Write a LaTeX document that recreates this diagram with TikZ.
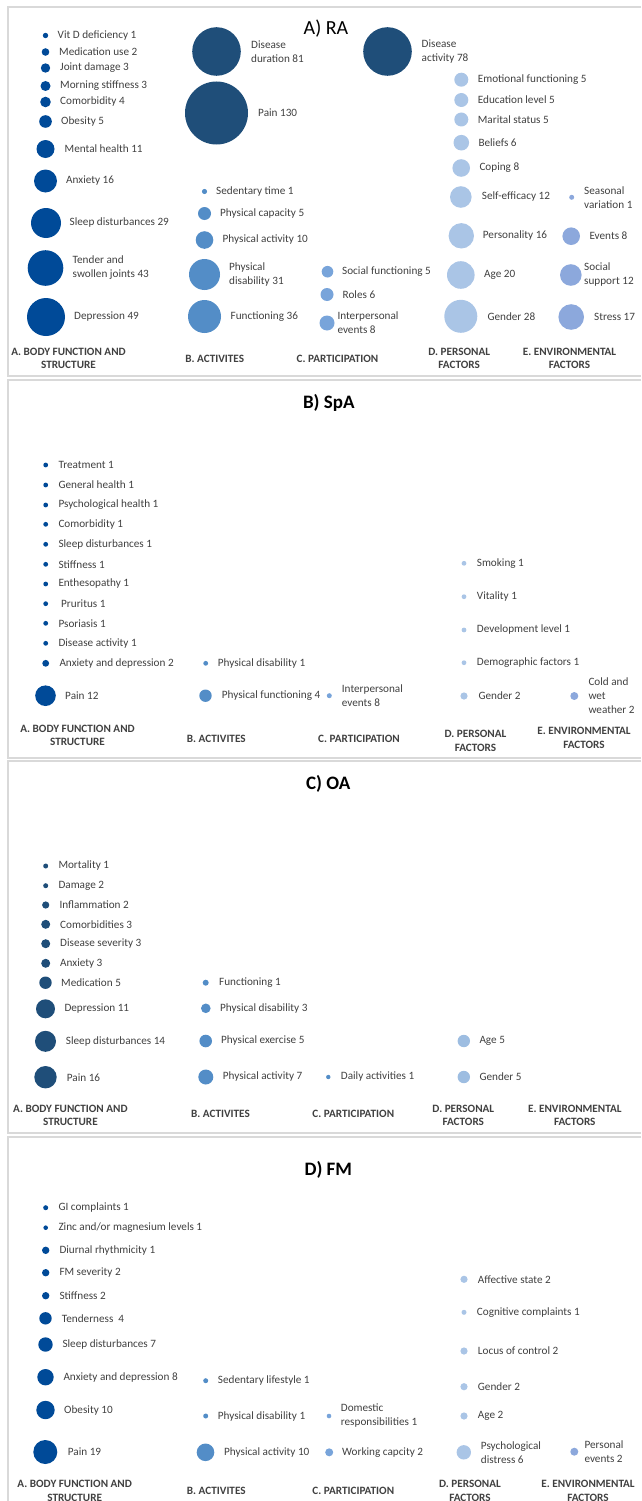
\documentclass[tikz,border=0pt]{standalone}
\usepackage{fontspec}
\setmainfont{Carlito}
\definecolor{bodyc}{RGB}{0,74,152}
\definecolor{navyc}{RGB}{31,78,121}
\definecolor{actc}{RGB}{83,141,199}
\definecolor{partc}{RGB}{120,164,218}
\definecolor{persc}{RGB}{170,197,230}
\definecolor{envc}{RGB}{140,168,220}
\definecolor{txtc}{RGB}{64,64,64}
\definecolor{framec}{RGB}{217,217,217}
\tikzset{
 bubble/.style={circle, inner sep=0pt, draw=none},
 lbl/.style={anchor=west, align=left, inner sep=0pt, text=txtc, font=\fontsize{11.2}{14}\selectfont},
 cat/.style={align=center, inner sep=0pt, text=txtc, font=\bfseries\fontsize{11.2}{13.5}\selectfont},
 ttl/.style={inner sep=0pt, text=black, font=\fontsize{20}{22}\selectfont},
 frame/.style={draw=framec, line width=1.5pt}
}
\newcommand{\bub}[7]{%
 \node[bubble, fill=#5, minimum size={2*#4pt}] (#1) at (#2,#3) {};
 \node[lbl] (#1t) at (#6,#3) {#7};}
\newcommand{\catlab}[4]{\node[cat] (#1) at (#2,#3) {#4};}
\begin{document}
\begin{tikzpicture}[x=1pt,y=-1pt]
\useasboundingbox (0,0) rectangle (641,1501);
% frames
\draw[frame] (641,7) -- (8,7) -- (8,376) -- (641,376);
\draw[frame] (641,380) -- (8,380) -- (8,758) -- (641,758);
\draw[frame] (641,761) -- (8,761) -- (8,1133) -- (641,1133);
\draw[frame] (641,1137) -- (8,1137) -- (8,1505);

% ===== A) RA =====
\node[ttl] (tA) at (326,29) {A) RA};
\bub{aVit}{45.5}{35.5}{2.7}{bodyc}{57.5}{Vit D deficiency 1}
\bub{aMed}{45.5}{52}{3.8}{bodyc}{59}{Medication use 2}
\bub{aJoint}{45.5}{68}{4.7}{bodyc}{60}{Joint damage 3}
\bub{aMorn}{45.5}{86}{5}{bodyc}{60}{Morning stiffness 3}
\bub{aCom}{45.5}{102}{5.3}{bodyc}{60}{Comorbidity 4}
\bub{aObe}{45.5}{121.5}{6.3}{bodyc}{61}{Obesity 5}
\bub{aMent}{45.5}{149}{9}{bodyc}{64.5}{Mental health 11}
\bub{aAnx}{45.5}{181}{11.5}{bodyc}{66}{Anxiety 16}
\bub{aSleep}{46}{223}{15}{bodyc}{69.5}{Sleep disturbances 29}
\bub{aTend}{45.5}{268}{17.8}{bodyc}{72.5}{Tender and\\swollen joints 43}
\bub{aDep}{46}{317}{19}{bodyc}{74}{Depression 49}

\bub{aDur}{216.5}{51.5}{24.3}{navyc}{251}{Disease\\duration 81}
\bub{aPain}{216.5}{113}{31.5}{navyc}{258}{Pain 130}
\bub{aAct}{387.5}{51.5}{24.3}{navyc}{421.5}{Disease\\activity 78}

\bub{aSed}{204.5}{191.5}{2.6}{actc}{216}{Sedentary time 1}
\bub{aCap}{204.5}{213.5}{6.5}{actc}{220}{Physical capacity 5}
\bub{aPact}{204.5}{240}{8.8}{actc}{222.5}{Physical activity 10}
\bub{aPdis}{204.5}{274.5}{15.5}{actc}{229}{Physical\\disability 31}
\bub{aFun}{204.5}{316.5}{16.5}{actc}{230.5}{Functioning 36}

\bub{aSoc}{327.5}{271.7}{5.8}{partc}{342}{Social functioning 5}
\bub{aRol}{327}{294.5}{6.5}{partc}{342.5}{Roles 6}
\bub{aInt}{327}{323}{7.5}{partc}{337.3}{Interpersonal\\events 8}

\bub{aEmo}{461.3}{79.7}{7}{persc}{477.7}{Emotional functioning 5}
\bub{aEdu}{461.3}{100}{7}{persc}{477.7}{Education level 5}
\bub{aMar}{461.3}{119.5}{7}{persc}{477.7}{Marital status 5}
\bub{aBel}{461.3}{142.7}{7.8}{persc}{478.3}{Beliefs 6}
\bub{aCop}{461.2}{168}{8.8}{persc}{479.3}{Coping 8}
\bub{aSelf}{460.8}{197}{10.8}{persc}{481.7}{Self-efficacy 12}
\bub{aPers}{461.3}{235.8}{12.7}{persc}{482.7}{Personality 16}
\bub{aAge}{460.8}{275}{13.8}{persc}{484}{Age 20}
\bub{aGen}{460.8}{316.3}{16.5}{persc}{487.3}{Gender 28}

\bub{aSea}{571.7}{197.3}{2.5}{envc}{584}{Seasonal\\variation 1}
\bub{aEve}{571.2}{236.2}{8.8}{envc}{589.3}{Events 8}
\bub{aSup}{570.8}{275}{10.8}{envc}{584}{Social\\support 12}
\bub{aStr}{571.2}{317}{12.8}{envc}{594}{Stress 17}

\catlab{aCA}{68.5}{358.3}{A. BODY FUNCTION AND\\STRUCTURE}
\catlab{aCB}{214.7}{359}{B. ACTIVITES}
\catlab{aCC}{337.5}{359}{C. PARTICIPATION}
\catlab{aCD}{459.2}{358.3}{D. PERSONAL\\FACTORS}
\catlab{aCE}{569.5}{358.3}{E. ENVIRONMENTAL\\FACTORS}

% ===== B) SpA =====
\node[ttl, font=\bfseries\fontsize{19}{22}\selectfont] (tB) at (328.8,403.3) {B) SpA};
\bub{bTre}{45.7}{465}{2.4}{bodyc}{58.3}{Treatment 1}
\bub{bGen}{45.7}{485}{2.4}{bodyc}{58.3}{General health 1}
\bub{bPsy}{45.7}{505}{2.4}{bodyc}{58.3}{Psychological health 1}
\bub{bCom}{45.7}{524.3}{2.4}{bodyc}{58.3}{Comorbidity 1}
\bub{bSle}{45.7}{544.3}{2.4}{bodyc}{58.3}{Sleep disturbances 1}
\bub{bSti}{45.7}{564.3}{2.4}{bodyc}{58.3}{Stiffness 1}
\bub{bEnt}{45.7}{584}{2.4}{bodyc}{58.3}{Enthesopathy 1}
\bub{bPru}{45.7}{603.7}{2.4}{bodyc}{61}{Pruritus 1}
\bub{bPso}{45.7}{623.3}{2.4}{bodyc}{58.3}{Psoriasis 1}
\bub{bDis}{45.7}{643.3}{2.4}{bodyc}{58.3}{Disease activity 1}
\bub{bAnx}{45.7}{663.3}{3.4}{bodyc}{59.3}{Anxiety and depression 2}
\bub{bPain}{45.5}{695.7}{10.3}{bodyc}{65}{Pain 12}

\bub{bPdis}{205.7}{663.3}{2.4}{actc}{217.7}{Physical disability 1}
\bub{bPfun}{205.5}{695.7}{6.2}{actc}{221.7}{Physical functioning 4}

\bub{bInt}{329.3}{695.7}{2.5}{partc}{341.7}{Interpersonal\\events 8}

\bub{bSmo}{464}{563.3}{2.4}{persc}{476.7}{Smoking 1}
\bub{bVit}{464}{596.7}{2.4}{persc}{476.7}{Vitality 1}
\bub{bDev}{464}{630}{2.4}{persc}{476.7}{Development level 1}
\bub{bDem}{464}{662.7}{2.4}{persc}{476.7}{Demographic factors 1}
\bub{bGend}{464}{696}{3.6}{persc}{478.3}{Gender 2}

\bub{bCold}{574.3}{696}{4}{envc}{588.3}{Cold and\\wet\\weather 2}

\catlab{bCA}{77.5}{735.3}{A. BODY FUNCTION AND\\STRUCTURE}
\catlab{bCB}{216.3}{739}{B. ACTIVITES}
\catlab{bCC}{359}{738.5}{C. PARTICIPATION}
\catlab{bCD}{475.5}{741}{D. PERSONAL\\FACTORS}
\catlab{bCE}{584}{737.7}{E. ENVIRONMENTAL\\FACTORS}

% ===== C) OA =====
\node[ttl, font=\bfseries\fontsize{19}{22}\selectfont] (tC) at (328.3,784.3) {C) OA};
\bub{cMor}{45.7}{866}{2.5}{navyc}{58.3}{Mortality 1}
\bub{cDam}{45.7}{885.7}{2.5}{navyc}{58.3}{Damage 2}
\bub{cInf}{45.7}{905}{3.6}{navyc}{59.3}{Inflammation 2}
\bub{cCom}{45.7}{924.3}{4.5}{navyc}{60}{Comorbidities 3}
\bub{cSev}{45.7}{943.7}{4.5}{navyc}{60}{Disease severity 3}
\bub{cAnx}{45.7}{963.3}{4.5}{navyc}{60}{Anxiety 3}
\bub{cMed}{45.5}{982.7}{6.2}{navyc}{61}{Medication 5}
\bub{cDep}{45.5}{1008.8}{9.5}{navyc}{64.3}{Depression 11}
\bub{cSle}{45.5}{1041.3}{10.5}{navyc}{65.7}{Sleep disturbances 14}
\bub{cPain}{45.5}{1077.2}{11.2}{navyc}{66.7}{Pain 16}

\bub{cFun}{205.7}{982.7}{3}{actc}{219}{Functioning 1}
\bub{cPdis}{205.8}{1008.3}{4.8}{actc}{220}{Physical disability 3}
\bub{cPex}{205.7}{1041}{6.3}{actc}{221}{Physical exercise 5}
\bub{cPact}{205.8}{1077}{7.5}{actc}{222.7}{Physical activity 7}

\bub{cDai}{328.3}{1077}{2.2}{actc}{340.7}{Daily activities 1}

\bub{cAge}{463.8}{1041}{6.2}{persc!85!actc}{479.3}{Age 5}
\bub{cGen}{463.8}{1077}{6.2}{persc!85!actc}{479.3}{Gender 5}

\catlab{cCA}{70.4}{1115.5}{A. BODY FUNCTION AND\\STRUCTURE}
\catlab{cCB}{220.5}{1114}{B. ACTIVITES}
\catlab{cCC}{353.3}{1114}{C. PARTICIPATION}
\catlab{cCD}{463.3}{1115.5}{D. PERSONAL\\FACTORS}
\catlab{cCE}{574.8}{1115.5}{E. ENVIRONMENTAL\\FACTORS}

% ===== D) FM =====
\node[ttl, font=\bfseries\fontsize{19}{22}\selectfont] (tD) at (328.3,1170) {D) FM};
\bub{dGI}{45.7}{1207.7}{2.5}{bodyc}{58.3}{GI complaints 1}
\bub{dZin}{45.7}{1227.7}{2.3}{bodyc}{58.3}{Zinc and/or magnesium levels 1}
\bub{dDiu}{45.7}{1250.3}{3.7}{bodyc}{59.3}{Diurnal rhythmicity 1}
\bub{dFMs}{45.7}{1272.7}{3.7}{bodyc}{59.3}{FM severity 2}
\bub{dSti}{45.7}{1295.7}{3.7}{bodyc}{59.3}{Stiffness 2}
\bub{dTen}{45.5}{1318.3}{6.2}{bodyc}{61.7}{Tenderness\ \ 4}
\bub{dSle}{45.5}{1344.5}{7.2}{bodyc}{62.3}{Sleep disturbances 7}
\bub{dAnx}{45.5}{1377.2}{8.2}{bodyc}{63.3}{Anxiety and depression 8}
\bub{dObe}{45.5}{1410}{9.2}{bodyc}{64}{Obesity 10}
\bub{dPain}{45.3}{1452}{12}{bodyc}{67.7}{Pain 19}

\bub{dSed}{205.7}{1380.7}{2.5}{actc}{217.7}{Sedentary lifestyle 1}
\bub{dPdis}{205.7}{1416}{2.5}{actc}{217.7}{Physical disability 1}
\bub{dPact}{205.5}{1452.3}{8.8}{actc}{224}{Physical activity 10}

\bub{dDom}{329}{1416}{2.3}{partc}{340.7}{Domestic\\responsibilities 1}
\bub{dWor}{329.2}{1452.3}{4}{partc}{342}{Working capcity 2}

\bub{dAff}{464}{1279.3}{3.6}{persc}{477.7}{Affective state 2}
\bub{dCog}{464}{1312.3}{2.5}{persc}{476.7}{Cognitive complaints 1}
\bub{dLoc}{464}{1351}{3.6}{persc}{477.7}{Locus of control 2}
\bub{dGen}{464}{1386.7}{3.6}{persc}{477.7}{Gender 2}
\bub{dAge}{464}{1416}{3.6}{persc}{477.7}{Age 2}
\bub{dPsy}{463.8}{1452.3}{7.2}{persc}{480.7}{Psychological\\distress 6}

\bub{dPev}{574.3}{1451.7}{4}{envc}{584.3}{Personal\\events 2}

\catlab{dCA}{74.7}{1491}{A. BODY FUNCTION AND\\STRUCTURE}
\catlab{dCB}{216.3}{1491}{B. ACTIVITES}
\catlab{dCC}{353.3}{1491}{C. PARTICIPATION}
\catlab{dCD}{470}{1491}{D. PERSONAL\\FACTORS}
\catlab{dCE}{588}{1491}{E. ENVIRONMENTAL\\FACTORS}
\end{tikzpicture}
\end{document}
